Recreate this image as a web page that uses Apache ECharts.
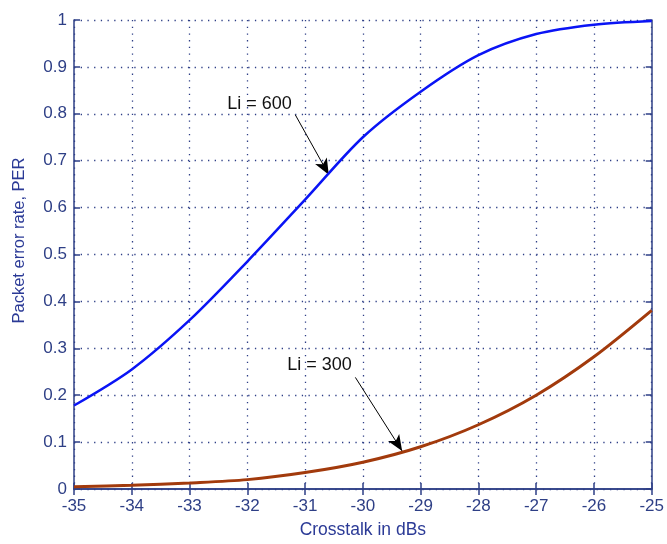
<!DOCTYPE html>
<html><head><meta charset="utf-8">
<script src="https://cdn.jsdelivr.net/npm/echarts@6/dist/echarts.min.js"></script>
<style>html,body{margin:0;padding:0;background:#fff}#c{width:667px;height:544px}</style>
</head><body><div id="c"></div>
<script>
const xValues = [-35, -34, -33, -32, -31, -30, -29, -28, -27, -26, -25];
const per600 = [0.178, 0.255, 0.36, 0.485, 0.617, 0.75, 0.847, 0.925, 0.97, 0.99, 0.998];
const per300 = [0.005, 0.008, 0.013, 0.02, 0.035, 0.057, 0.09, 0.137, 0.2, 0.282, 0.381];
const yTicks = [0, 0.1, 0.2, 0.3, 0.4, 0.5, 0.6, 0.7, 0.8, 0.9, 1];
const annot600 = {text: 'Li = 600', label: [-31.79, 0.821], from: [-31.17, 0.798], to: [-30.59, 0.670]};
const annot300 = {text: 'Li = 300', label: [-30.75, 0.264], from: [-30.13, 0.238], to: [-29.32, 0.081]};

const axisColor = '#2e3f86';
const font = 'Liberation Sans, Arial, sans-serif';
const chart = echarts.init(document.getElementById('c'));
function annotSeries(a) {
  return {
    type: 'line', data: [], silent: true,
    markLine: {
      silent: true, symbol: ['none', 'arrow'], symbolSize: [10, 16],
      lineStyle: {color: '#000', width: 1, type: 'solid'},
      label: {show: false},
      data: [[{coord: a.from}, {coord: a.to}]]
    },
    markPoint: {
      silent: true, symbol: 'circle', symbolSize: 0,
      label: {show: true, formatter: a.text, color: '#111', fontFamily: font, fontSize: 18, position: 'inside'},
      data: [{coord: a.label}]
    }
  };
}
chart.setOption({
  animation: false,
  grid: {left: 74, right: 10, top: 20, bottom: 54},
  xAxis: [{
    type: 'value', min: -35, max: -25, interval: 1,
    name: 'Crosstalk in dBs', nameLocation: 'middle', nameGap: 32,
    nameTextStyle: {color: '#2b3a96', fontFamily: font, fontSize: 17.5},
    axisLine: {lineStyle: {color: axisColor, width: 1.5}},
    axisTick: {inside: true, length: 6, lineStyle: {color: axisColor, width: 1.5}},
    axisLabel: {color: axisColor, fontFamily: font, fontSize: 17, margin: 9},
    splitLine: {show: true, lineStyle: {color: axisColor, type: [1.3, 5.4], width: 1.3}}
  }, {
    type: 'value', min: -35, max: -25, interval: 1, position: 'top',
    axisLine: {show: true, lineStyle: {color: axisColor, width: 1.5}},
    axisTick: {show: true, inside: true, length: 6, lineStyle: {color: axisColor, width: 1.5}},
    axisLabel: {show: false}, splitLine: {show: false}
  }],
  yAxis: [{
    type: 'value', min: 0, max: 1, interval: 0.1,
    name: 'Packet error rate, PER', nameLocation: 'middle', nameGap: 46,
    nameTextStyle: {color: '#2b3a96', fontFamily: font, fontSize: 16.5, padding: [0, 0, 0, 28]},
    axisLine: {show: true, lineStyle: {color: axisColor, width: 1.5}},
    axisTick: {show: true, inside: true, length: 6, lineStyle: {color: axisColor, width: 1.5}},
    axisLabel: {color: axisColor, fontFamily: font, fontSize: 17, margin: 7,
      formatter: v => { const t = yTicks.find(k => Math.abs(k - v) < 1e-9); return t === undefined ? '' : String(t); }},
    splitLine: {show: true, lineStyle: {color: axisColor, type: [1.3, 5.4], width: 1.3}}
  }, {
    type: 'value', min: 0, max: 1, interval: 0.1, position: 'right',
    axisLine: {show: true, lineStyle: {color: axisColor, width: 1.5}},
    axisTick: {show: true, inside: true, length: 6, lineStyle: {color: axisColor, width: 1.5}},
    axisLabel: {show: false}, splitLine: {show: false}
  }],
  series: [
    {type: 'line', data: xValues.map((x, i) => [x, per600[i]]), showSymbol: false,
      lineStyle: {color: '#0a14f5', width: 2.5}, smooth: 0.3, z: 5},
    {type: 'line', data: xValues.map((x, i) => [x, per300[i]]), showSymbol: false,
      lineStyle: {color: '#a23a0c', width: 3}, smooth: 0.3, z: 5},
    annotSeries(annot600),
    annotSeries(annot300)
  ]
});
</script></body></html>
